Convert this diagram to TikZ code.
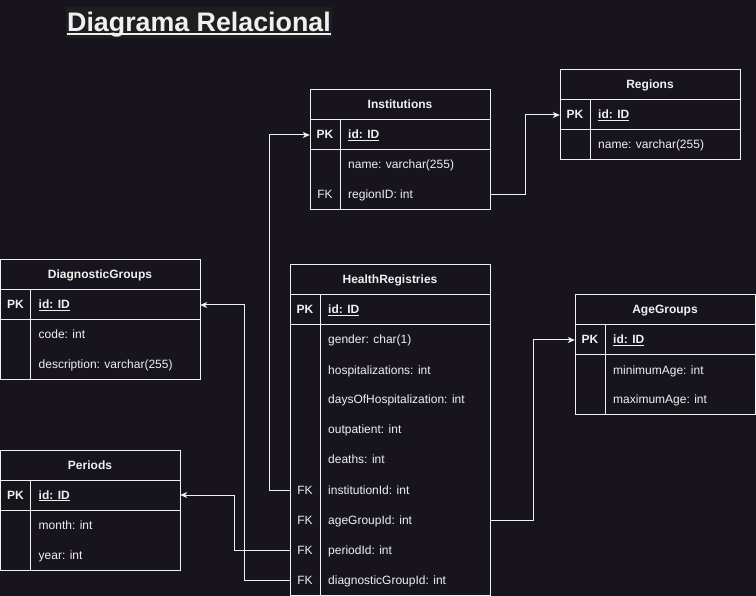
\documentclass[tikz,border=0pt]{standalone}
\usepackage{fontspec}
\setmainfont{Liberation Sans}
\usetikzlibrary{arrows.meta,positioning}

\definecolor{canvas}{RGB}{24,20,29}
\definecolor{titlebg}{RGB}{30,30,33}
\definecolor{ink}{RGB}{240,240,240}

% frame of one table: left, top, right, bottom
\newcommand{\entityframe}[4]{%
	\draw[tableline] (#1,#2) rectangle (#3,#4);
	\draw[tableline] (#1,#2+30) -- (#3,#2+30) (#1,#2+60) -- (#3,#2+60) (#1+30,#2+30) -- (#1+30,#4);
}
% one row: name, left, right, centre y, key, text
\newcommand{\entityrow}[6]{%
	\node[rowbox, minimum width=#3-#2] (#1) at ({(#2+#3)/2},#4) {};
	\node[keytext] (#1-key) at (#2+15,#4+4) {#5};
	\node[fieldtext] (#1-text) at (#2+38,#4+4) {#6};
}

\begin{document}
\begin{tikzpicture}[
		x=1pt,
		y=-1pt,
		tableline/.style={
			draw=ink,
			line width=1pt
		},
		rowbox/.style={
			inner sep=0pt,
			minimum height=30pt
		},
		keytext/.style={
			anchor=base,
			inner sep=0pt,
			text=ink,
			font=\fontsize{12}{14}\selectfont
		},
		fieldtext/.style={
			anchor=base west,
			inner sep=0pt,
			text=ink,
			font=\fontsize{12}{14}\selectfont
		},
		headtext/.style={
			anchor=base,
			inner sep=0pt,
			text=ink,
			font=\bfseries\fontsize{12}{14}\selectfont
		},
		relation/.style={
			draw=ink,
			line width=1pt,
			-{Stealth[length=7pt,width=6pt,inset=2pt]}
		}
		]
		\useasboundingbox (0,0) rectangle (756,596);
		\fill[canvas] (0,0) rectangle (756,596);
		
		% title
		\fill[titlebg] (66,7) rectangle (332,38);
		\node[anchor=base,
			  inner sep=0pt,
			  text=ink,
			  font=\bfseries\fontsize{26.8}{30}\selectfont] (pageTitle) at (199,32) {Diagrama Relacional};
		\draw[ink, line width=2pt] ([yshift=-2.5pt]pageTitle.base west) -- ([yshift=-2.5pt]pageTitle.base east);
		
		% Institutions
		\entityframe{310}{90}{490}{210}
		\node[headtext] (instTitle) at (400,109) {Institutions};
		\entityrow{instId}{310}{490}{135}{\textbf{PK}}{\underline{\textbf{id: ID}}}
		\entityrow{instName}{310}{490}{165}{}{name: varchar(255)}
		\entityrow{instRegion}{310}{490}{195}{FK}{regionID: int}
		
		% Regions
		\entityframe{560}{70}{740}{160}
		\node[headtext] (regTitle) at (650,89) {Regions};
		\entityrow{regId}{560}{740}{115}{\textbf{PK}}{\underline{\textbf{id: ID}}}
		\entityrow{regName}{560}{740}{145}{}{name: varchar(255)}
		
		% DiagnosticGroups
		\entityframe{0.5}{260}{200}{380}
		\node[headtext] (diagTitle) at (100,279) {DiagnosticGroups};
		\entityrow{diagId}{0.5}{200}{305}{\textbf{PK}}{\underline{\textbf{id: ID}}}
		\entityrow{diagCode}{0.5}{200}{335}{}{code: int}
		\entityrow{diagDesc}{0.5}{200}{365}{}{description: varchar(255)}
		
		% HealthRegistries
		\entityframe{290}{265}{490}{595}
		\node[headtext] (hrTitle) at (390,284) {HealthRegistries};
		\entityrow{hrId}{290}{490}{310}{\textbf{PK}}{\underline{\textbf{id: ID}}}
		\entityrow{hrGender}{290}{490}{340}{}{gender: char(1)}
		\entityrow{hrHosp}{290}{490}{370}{}{hospitalizations: int}
		\entityrow{hrDays}{290}{490}{400}{}{daysOfHospitalization: int}
		\entityrow{hrOut}{290}{490}{430}{}{outpatient: int}
		\entityrow{hrDeaths}{290}{490}{460}{}{deaths: int}
		\entityrow{hrInst}{290}{490}{490}{FK}{institutionId: int}
		\entityrow{hrAge}{290}{490}{520}{FK}{ageGroupId: int}
		\entityrow{hrPeriod}{290}{490}{550}{FK}{periodId: int}
		\entityrow{hrDiag}{290}{490}{580}{FK}{diagnosticGroupId: int}
		
		% AgeGroups
		\entityframe{575}{295}{755}{415}
		\node[headtext] (ageTitle) at (665,314) {AgeGroups};
		\entityrow{ageId}{575}{755}{340}{\textbf{PK}}{\underline{\textbf{id: ID}}}
		\entityrow{ageMin}{575}{755}{370}{}{minimumAge: int}
		\entityrow{ageMax}{575}{755}{400}{}{maximumAge: int}
		
		% Periods
		\entityframe{0.5}{450}{180}{570}
		\node[headtext] (perTitle) at (90,469) {Periods};
		\entityrow{perId}{0.5}{180}{495}{\textbf{PK}}{\underline{\textbf{id: ID}}}
		\entityrow{perMonth}{0.5}{180}{525}{}{month: int}
		\entityrow{perYear}{0.5}{180}{555}{}{year: int}
		
		% relations
		\draw[relation] (hrInst.west) -- ++(-20,0) |- (instId.west);
		\draw[relation] (instRegion.east) -- ++(35,0) |- (regId.west);
		\draw[relation] (hrAge.east) -- ++(43,0) |- (ageId.west);
		\draw[relation] (hrPeriod.west) -- ++(-55,0) |- (perId.east);
		\draw[relation] (hrDiag.west) -- ++(-45,0) |- (diagId.east);
		\end{tikzpicture}
\end{document}
